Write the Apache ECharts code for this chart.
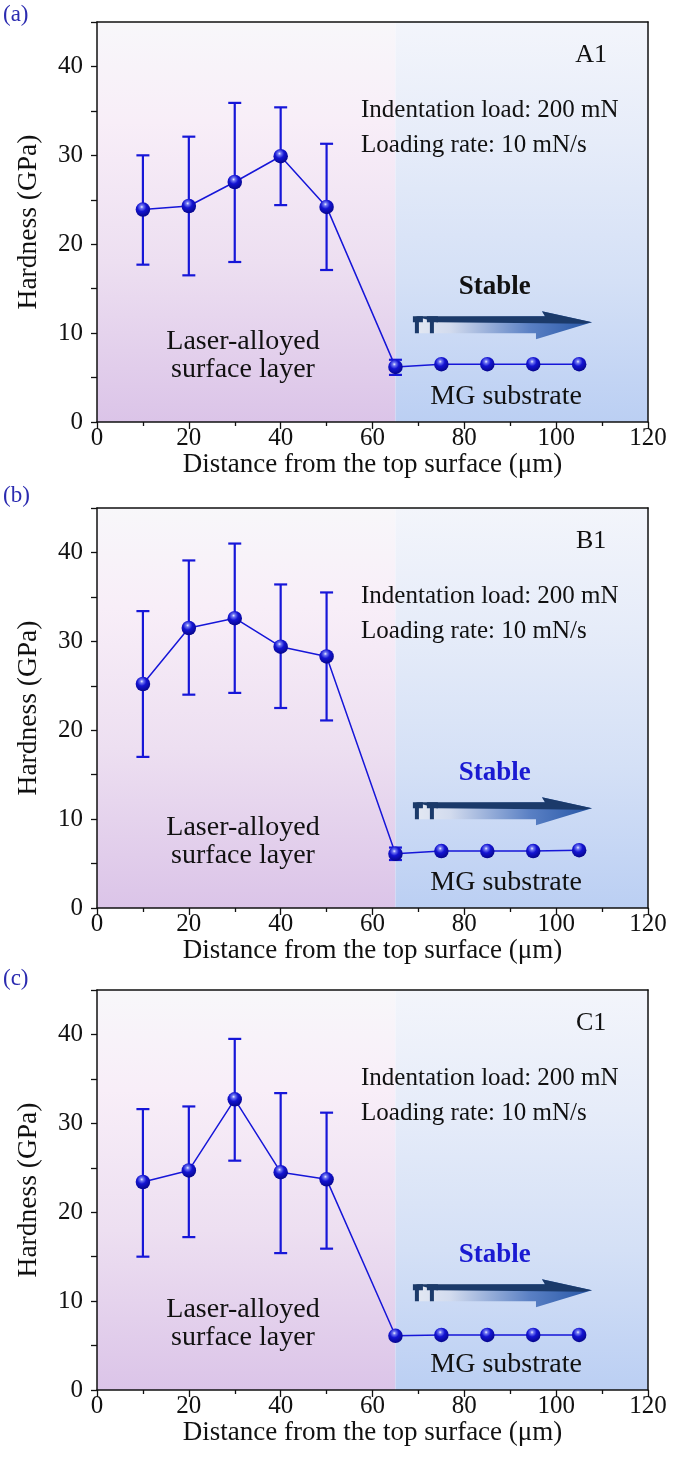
<!DOCTYPE html>
<html><head><meta charset="utf-8">
<script src="https://cdn.jsdelivr.net/npm/echarts@6/dist/echarts.min.js"></script>
<style>html,body{margin:0;padding:0;background:#fff}#c{width:673px;height:1466px}</style>
</head><body><div id="c"></div>
<script>
// ---------------- DATA ----------------
const distance = [10, 20, 30, 40, 50, 65, 75, 85, 95, 105];

const hardnessA = [23.9, 24.3, 27.0, 29.9, 24.2, 6.2, 6.5, 6.5, 6.5, 6.5];
const errLowA   = [17.7, 16.5, 18.0, 24.4, 17.1, 5.3, null, null, null, null];
const errHighA  = [30.0, 32.1, 35.9, 35.4, 31.3, 7.0, null, null, null, null];

const hardnessB = [25.2, 31.5, 32.6, 29.4, 28.3, 6.1, 6.4, 6.4, 6.4, 6.5];
const errLowB   = [17.0, 24.0, 24.2, 22.5, 21.1, 5.4, null, null, null, null];
const errHighB  = [33.4, 39.1, 41.0, 36.4, 35.5, 6.8, null, null, null, null];

const hardnessC = [23.4, 24.7, 32.7, 24.5, 23.7, 6.1, 6.2, 6.2, 6.2, 6.2];
const errLowC   = [15.0, 17.2, 25.8, 15.4, 15.9, null, null, null, null, null];
const errHighC  = [31.6, 31.9, 39.5, 33.4, 31.2, null, null, null, null, null];

const regionBounds = [[0, 65], [65, 120]];     // surface layer | substrate
const sampleNames = ['A1', 'B1', 'C1'];
const panelLabels = ['(a)', '(b)', '(c)'];
const xAxisName = 'Distance from the top surface (μm)';
const yAxisName = 'Hardness (GPa)';
const xRange = [0, 120, 20];
const yRange = [0, 45, 5];
const noteTexts = ['Indentation load: 200 mN', 'Loading rate: 10 mN/s',
                   'Laser-alloyed', 'surface layer', 'MG substrate', 'Stable'];
const arrowSpan = [68.8, 107.8, 11];  // start x, tip x, y (data units)

// ---------------- LAYOUT / STYLE ----------------
const FONT = 'Liberation Serif';
const GL = 97, GW = 551, GH = 400;
const gridTops = [22, 508, 990];
const labelTops = [3, 484, 967];
const notePos = [ // [x, y, align, fontSize, bold]
  [57.5, 35.1, 'left', 25, false],
  [57.5, 31.1, 'left', 25, false],
  [31.8, 9.0, 'center', 28, false],
  [31.8, 5.85, 'center', 28, false],
  [89.1, 2.85, 'center', 28, false],
  [86.6, 15.2, 'center', 27, true]
];
const samplePos = [107.6, 41.3];
const stableColors = ['#111111', '#1a1ad2', '#1a1ad2'];
const BLUE = '#1616d8';

const panels = [
  {y: hardnessA, lo: errLowA, hi: errHighA},
  {y: hardnessB, lo: errLowB, hi: errHighB},
  {y: hardnessC, lo: errLowC, hi: errHighC}
];

const sphere = {
  type: 'radial', x: 0.42, y: 0.32, r: 0.7,
  colorStops: [
    {offset: 0, color: '#eef0ff'},
    {offset: 0.16, color: '#7077f2'},
    {offset: 0.45, color: '#1414d2'},
    {offset: 1, color: '#050588'}
  ]
};

const chart = echarts.init(document.getElementById('c'), null, {renderer: 'canvas'});
const grids = [], xAxes = [], yAxes = [], series = [], graphics = [];
const axisLine = {show: true, onZero: false, lineStyle: {color: '#111', width: 1.5}};

panels.forEach((p, i) => {
  grids.push({left: GL, top: gridTops[i], width: GW, height: GH});
  xAxes.push({
    gridIndex: i, type: 'value', min: xRange[0], max: xRange[1], interval: xRange[2], z: 8,
    axisLine: axisLine,
    axisTick: {show: true, length: 7, lineStyle: {color: '#111', width: 1.3}},
    minorTick: {show: true, splitNumber: 2, length: 4, lineStyle: {color: '#111', width: 1.3}},
    splitLine: {show: false}, minorSplitLine: {show: false},
    axisLabel: {color: '#111', fontFamily: FONT, fontSize: 25, margin: 4},
    name: xAxisName, nameLocation: 'middle', nameGap: 14,
    nameTextStyle: {color: '#111', fontFamily: FONT, fontSize: 27}
  });
  xAxes.push({
    gridIndex: i, type: 'value', position: 'top', min: xRange[0], max: xRange[1], z: 8,
    axisLine: axisLine, axisTick: {show: false}, axisLabel: {show: false}, splitLine: {show: false}
  });
  yAxes.push({
    gridIndex: i, type: 'value', min: yRange[0], max: yRange[1], interval: yRange[2], z: 8,
    axisLine: axisLine,
    axisTick: {show: true, length: 6, lineStyle: {color: '#111', width: 1.3}},
    splitLine: {show: false},
    axisLabel: {color: '#111', fontFamily: FONT, fontSize: 25, margin: 14,
      formatter: v => (v % 10 === 0 ? String(v) : '')},
    name: yAxisName, nameLocation: 'middle', nameGap: 54,
    nameTextStyle: {color: '#111', fontFamily: FONT, fontSize: 27.5}
  });
  yAxes.push({
    gridIndex: i, type: 'value', position: 'right', min: yRange[0], max: yRange[1], z: 8,
    axisLine: axisLine, axisTick: {show: false}, axisLabel: {show: false}, splitLine: {show: false}
  });
  const xi = i * 2, yi = i * 2;

  // background regions
  series.push({
    type: 'custom', xAxisIndex: xi, yAxisIndex: yi, z: 1, silent: true,
    data: regionBounds,
    renderItem: (params, api) => {
      const a = api.coord([api.value(0), yRange[1]]);
      const b = api.coord([api.value(1), yRange[0]]);
      const stops = params.dataIndex === 0
        ? [{offset: 0, color: '#f8f7fa'}, {offset: 0.25, color: '#f8eef8'},
           {offset: 0.6, color: '#eddff1'}, {offset: 1, color: '#dbc4e8'}]
        : [{offset: 0, color: '#f3f5fb'}, {offset: 0.3, color: '#e6ecf9'},
           {offset: 0.65, color: '#d4e0f6'}, {offset: 1, color: '#bbcff3'}];
      return {
        type: 'rect', shape: {x: a[0], y: a[1], width: b[0] - a[0], height: b[1] - a[1]},
        style: {fill: new echarts.graphic.LinearGradient(0, 0, 0, 1, stops)}
      };
    }
  });

  // error bars
  const errData = [];
  distance.forEach((x, k) => { if (p.lo[k] != null) errData.push([x, p.lo[k], p.hi[k]]); });
  series.push({
    type: 'custom', xAxisIndex: xi, yAxisIndex: yi, z: 3, silent: true,
    data: errData,
    renderItem: (params, api) => {
      const x = api.value(0);
      const pl = api.coord([x, api.value(1)]);
      const ph = api.coord([x, api.value(2)]);
      const w = 6.5, st = {stroke: BLUE, lineWidth: 2.2};
      return {type: 'group', children: [
        {type: 'line', shape: {x1: pl[0], y1: pl[1], x2: ph[0], y2: ph[1]}, style: st},
        {type: 'line', shape: {x1: pl[0] - w, y1: pl[1], x2: pl[0] + w, y2: pl[1]}, style: st},
        {type: 'line', shape: {x1: ph[0] - w, y1: ph[1], x2: ph[0] + w, y2: ph[1]}, style: st}
      ]};
    }
  });

  // main line with sphere markers
  series.push({
    type: 'line', xAxisIndex: xi, yAxisIndex: yi, z: 4, silent: true,
    data: distance.map((x, k) => [x, p.y[k]]),
    symbol: 'circle', symbolSize: 14.5,
    lineStyle: {color: BLUE, width: 1.5},
    itemStyle: {color: sphere, borderWidth: 0},
    animation: false
  });

  // arrow
  series.push({
    type: 'custom', xAxisIndex: xi, yAxisIndex: yi, z: 3, silent: true,
    data: [arrowSpan],
    renderItem: (params, api) => {
      const s = api.coord([api.value(0), api.value(2)]);
      const t = api.coord([api.value(1), api.value(2)]);
      const sx = s[0], sy = s[1], tx = t[0];
      const grad = new echarts.graphic.LinearGradient(0, 0, 1, 0, [
        {offset: 0, color: '#e4e9f3'}, {offset: 0.2, color: '#d2dbee'},
        {offset: 0.65, color: '#5a80c4'}, {offset: 1, color: '#2656a6'}]);
      const dark = '#1b3a6a';
      return {type: 'group', children: [
        {type: 'polygon', shape: {points: [[sx + 2, sy - 8], [tx - 47, sy - 8], [tx - 50, sy - 13],
          [tx, sy - 2], [tx - 56, sy + 15], [tx - 56, sy + 9], [sx + 6, sy + 9]]},
          style: {fill: grad}},
        {type: 'polygon', shape: {points: [[sx + 2, sy - 8], [tx - 47, sy - 8], [tx - 50, sy - 13],
          [tx, sy - 2], [tx - 8, sy - 0.5], [tx - 48, sy - 1], [sx + 24, sy - 2]]},
          style: {fill: dark}},
        {type: 'polygon', shape: {points: [[sx, sy - 8], [sx + 10, sy - 8], [sx + 10, sy - 2], [sx + 6, sy - 2],
          [sx + 6, sy + 9], [sx + 2, sy + 9], [sx + 2, sy - 2], [sx, sy - 2]]}, style: {fill: dark}},
        {type: 'polygon', shape: {points: [[sx + 14, sy - 8], [sx + 25, sy - 8], [sx + 25, sy - 2], [sx + 21, sy - 2],
          [sx + 21, sy + 9], [sx + 17, sy + 9], [sx + 17, sy - 2], [sx + 14, sy - 2]]}, style: {fill: dark}}
      ]};
    }
  });

  // annotation texts
  const noteData = notePos.map((q, k) => [q[0], q[1], k]);
  noteData.push([samplePos[0], samplePos[1], -1]);
  series.push({
    type: 'custom', xAxisIndex: xi, yAxisIndex: yi, z: 5, silent: true,
    data: noteData,
    renderItem: (params, api) => {
      const k = api.value(2);
      const pt = api.coord([api.value(0), api.value(1)]);
      if (k < 0) {
        return {type: 'text', x: pt[0], y: pt[1], style: {text: sampleNames[i], fontFamily: FONT,
          fontSize: 26, fill: '#111', align: 'center', verticalAlign: 'middle'}};
      }
      const q = notePos[k];
      const isStable = k === 5;
      return {type: 'text', x: pt[0], y: pt[1], style: {
        text: noteTexts[k], fontFamily: FONT, fontSize: q[3], fontWeight: q[4] ? 'bold' : 'normal',
        fill: isStable ? stableColors[i] : '#111', align: q[2], verticalAlign: 'middle'}};
    }
  });

  graphics.push({type: 'text', left: 3, top: labelTops[i],
    style: {text: panelLabels[i], fontFamily: FONT, fontSize: 23, fill: '#2b2bb0'}});
});

chart.setOption({
  animation: false,
  backgroundColor: '#ffffff',
  grid: grids, xAxis: xAxes, yAxis: yAxes, series: series, graphic: graphics
});
</script>
</body></html>
